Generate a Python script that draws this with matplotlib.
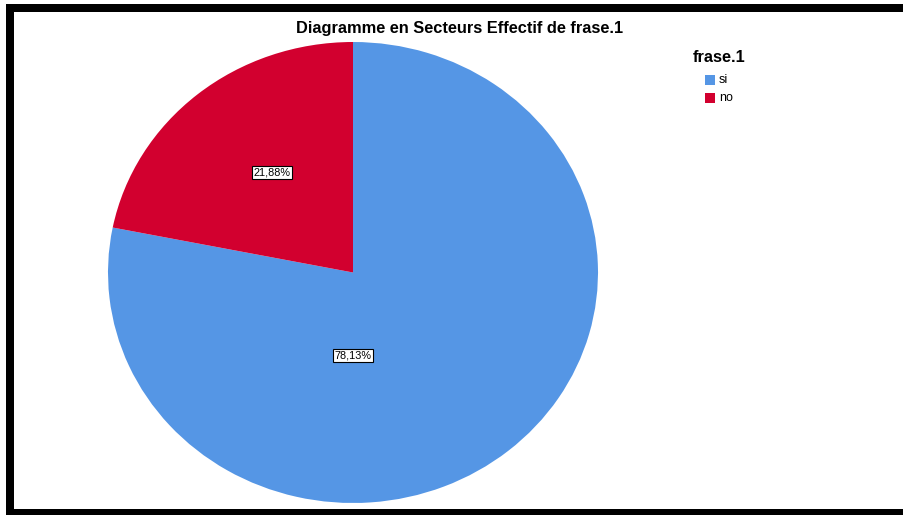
#!/usr/bin/env python3
"""
Pie chart: Diagramme en Secteurs Effectif de frase.1
"""
from decimal import Decimal, ROUND_HALF_UP
import matplotlib
matplotlib.use('Agg')
import matplotlib.pyplot as plt
from matplotlib.patches import Rectangle

plt.rcParams['font.family'] = ['Liberation Sans', 'DejaVu Sans']

# data
categories = ['si', 'no']
counts = [25, 7]
colors = ['#5596e5', '#d2002f']

W, H = 904, 515
fig = plt.figure(figsize=(W / 100, H / 100), dpi=100)
fig.patch.set_facecolor('white')


def fx(px):
    return px / W


def fy(py):
    return 1 - py / H


# pie area (ellipse, as in the SPSS output)
left, right, top, bottom = 108, 598, 42, 503
ax = fig.add_axes([fx(left), fy(bottom), (right - left) / W, (bottom - top) / H])
wedges, _ = ax.pie(counts, colors=colors, startangle=90, counterclock=False,
                   wedgeprops=dict(linewidth=0))
ax.set_aspect('auto')
ax.set_xlim(-1, 1)
ax.set_ylim(-1, 1)
ax.axis('off')

# percentage labels, comma decimal
total = sum(counts)
label_pos = [(0.0, -0.36), (-0.33, 0.435)]
for n, (lx, ly) in zip(counts, label_pos):
    pct = (Decimal(n) * 100 / Decimal(total)).quantize(Decimal('0.01'), rounding=ROUND_HALF_UP)
    txt = f'{pct}%'.replace('.', ',')
    ax.text(lx, ly, txt, ha='center', va='center', fontsize=7.8,
            bbox=dict(boxstyle='square,pad=0.15', facecolor='white', edgecolor='black', linewidth=0.8))

fig.text(fx(460), fy(29), 'Diagramme en Secteurs Effectif de frase.1',
         ha='center', va='center', fontsize=11.8, fontweight='bold')

# legend
fig.text(fx(693), fy(58), 'frase.1', ha='left', va='center', fontsize=11.8, fontweight='bold')
for i, (cat, col) in enumerate(zip(categories, colors)):
    yc = 80 + i * 18
    fig.patches.append(Rectangle((fx(705), fy(yc + 5)), 10 / W, 10 / H,
                                 transform=fig.transFigure, facecolor=col, edgecolor='none'))
    fig.text(fx(719), fy(yc), cat, ha='left', va='center', fontsize=9)

# black frame (left, top, bottom)
frame = [(6, 4, 8, 511), (6, 4, 898, 8), (6, 509, 898, 6)]
for x0, y0, w, h in frame:
    fig.patches.append(Rectangle((fx(x0), fy(y0 + h)), w / W, h / H,
                                 transform=fig.transFigure, facecolor='black', edgecolor='none'))

plt.savefig('out.png', dpi=100)
plt.close()
